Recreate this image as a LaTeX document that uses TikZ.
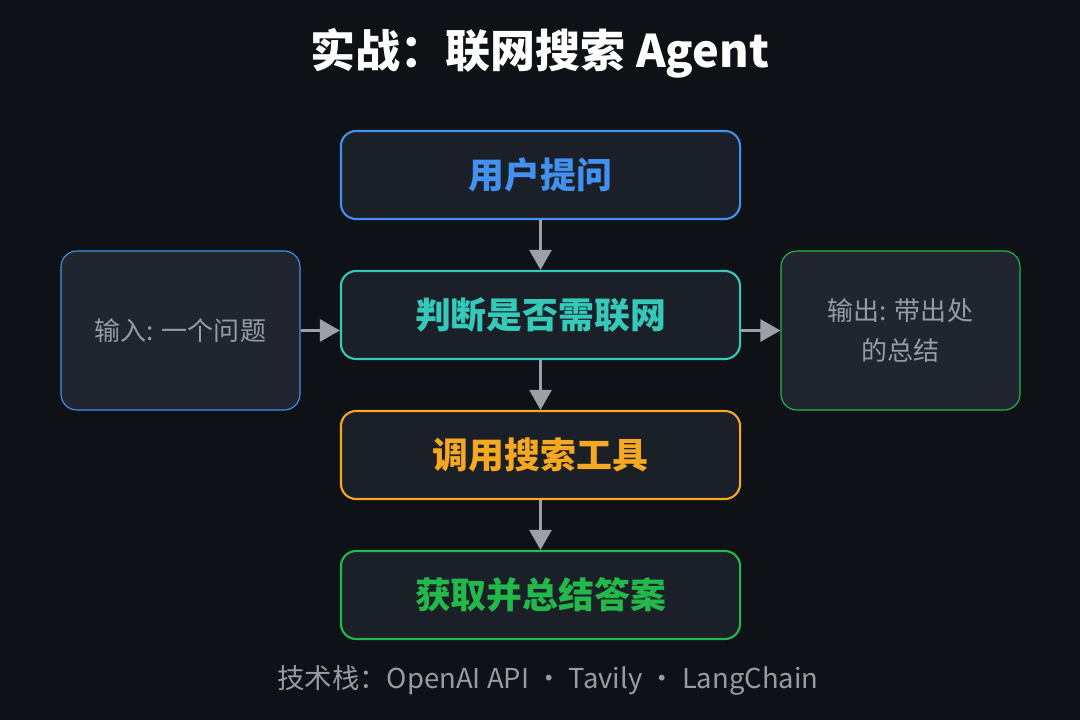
\documentclass[tikz,border=0pt]{standalone}
\usepackage{fontspec}
\setmainfont{Noto Sans CJK SC}
\usetikzlibrary{arrows.meta}
\definecolor{bg}{RGB}{14,17,22}
\definecolor{boxbg}{RGB}{27,31,39}
\definecolor{sidebg}{RGB}{33,37,47}
\definecolor{cblue}{RGB}{66,145,240}
\definecolor{cteal}{RGB}{52,201,185}
\definecolor{corange}{RGB}{246,168,33}
\definecolor{cgreen}{RGB}{34,184,74}
\definecolor{arrowgray}{RGB}{156,160,168}
\definecolor{sidetext}{RGB}{150,155,164}
\begin{document}
\begin{tikzpicture}[x=0.025cm,y=-0.025cm,
  stepbox/.style={draw, line width=1.5pt, rounded corners=0.38cm, fill=boxbg,
    minimum width=9.975cm, minimum height=2.2cm, inner sep=0pt,
    font=\fontsize{25.5}{30}\selectfont\bfseries},
  sidebox/.style={draw, line width=0.8pt, rounded corners=0.4cm, fill=sidebg,
    minimum width=5.975cm, minimum height=3.975cm, inner sep=0pt,
    text=sidetext, align=center, font=\fontsize{18.5}{29}\selectfont},
  flow/.style={-{Triangle[width=0.55cm,length=0.5cm]}, line width=2pt, draw=arrowgray}]
\useasboundingbox[fill=bg] (0,0) rectangle (1080,720);
% title
\node[text=white, font=\fontsize{32}{40}\selectfont\bfseries] (title) at (540,53) {实战：联网搜索 Agent};
% main steps
\node[stepbox, draw=cblue, text=cblue] (ask) at (540.5,175) {用户提问};
\node[stepbox, draw=cteal, text=cteal] (judge) at (540.5,315) {判断是否需联网};
\node[stepbox, draw=corange, text=corange] (search) at (540.5,455) {调用搜索工具};
\node[stepbox, draw=cgreen, text=cgreen] (answer) at (540.5,595) {获取并总结答案};
% input and output
\node[sidebox, draw=cblue] (input) at (180.5,330.5) {输入: 一个问题};
\node[sidebox, draw=cgreen] (output) at (900.5,330.5) {输出: 带出处\\的总结};
\draw[flow] (ask) -- (judge);
\draw[flow] (judge) -- (search);
\draw[flow] (search) -- (answer);
\draw[flow] (input.east) -- (input.east -| judge.west);
\draw[flow] (judge.east |- output.west) -- (output.west);
% footer
\node[text=sidetext, anchor=west, inner sep=0pt, font=\fontsize{19.5}{22}\selectfont] (stack) at (277,680) {技术栈：OpenAI API · Tavily · LangChain};
\end{tikzpicture}
\end{document}
